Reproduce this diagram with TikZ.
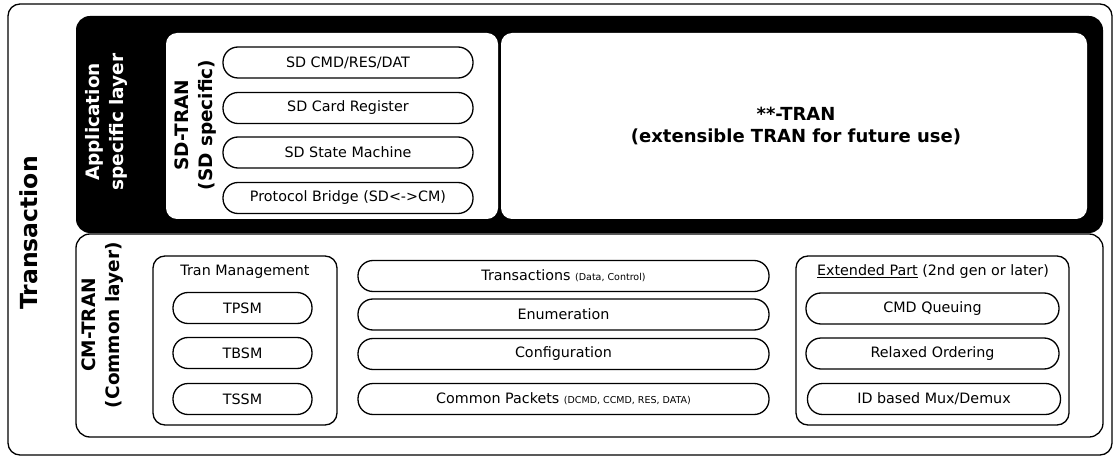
\documentclass[tikz,border=0pt]{standalone}
\usepackage{fontspec}
\setmainfont{DejaVu Sans}
\begin{document}
\begin{tikzpicture}[x=1pt,y=-1pt,
  box/.style={draw,line width=1.3pt,rounded corners=12pt,inner sep=0pt},
  wbox/.style={fill=white,rounded corners=11pt,inner sep=0pt},
  pill/.style={draw,line width=1.3pt,rounded corners=15pt,inner sep=0pt,minimum height=31pt,font=\fontsize{14.3}{16}\selectfont},
  blab/.style={font=\bfseries\fontsize{18.5}{24}\selectfont,align=center,rotate=90,inner sep=0pt},
  rtext/.style={font=\fontsize{14.3}{16}\selectfont,inner sep=0pt},
  small/.style={font=\fontsize{9.5}{10}\selectfont}
]
\newcommand{\smalltxt}[1]{{\fontsize{9.5}{10}\selectfont #1}}
\useasboundingbox (0,0) rectangle (1116,457);
% outer
\node[box,minimum width=1104pt,minimum height=451pt] (outer) at (560,229.5) {};
\node[font=\bfseries\fontsize{23.5}{26}\selectfont,rotate=90,inner sep=0pt] (trans) at (29,233) {Transaction};
% application layer
\node[fill=black,rounded corners=14pt,inner sep=0pt,minimum width=1027pt,minimum height=217pt] (app) at (589.5,124.5) {};
\node[blab,text=white] (applab) at (106,122) {Application\\specific layer};
\node[wbox,minimum width=332pt,minimum height=186pt] (sdtran) at (332,126) {};
\node[wbox,minimum width=586pt,minimum height=186pt] (future) at (794,126) {};
\node[blab] (sdlab) at (196,125) {SD-TRAN\\(SD specific)};
\node[font=\bfseries\fontsize{18}{22}\selectfont,align=center] (futlab) at (796,126) {**-TRAN\\(extensible TRAN for future use)};
\node[pill,minimum width=250pt] (sd1) at (348,62.5) {SD CMD/RES/DAT};
\node[pill,minimum width=250pt] (sd2) at (348,108) {SD Card Register};
\node[pill,minimum width=250pt] (sd3) at (348,152.5) {SD State Machine};
\node[pill,minimum width=250pt] (sd4) at (348,198) {Protocol Bridge (SD<->CM)};
% common layer
\node[box,rounded corners=14pt,minimum width=1027pt,minimum height=203pt] (cm) at (589.5,335.5) {};
\node[blab] (cmlab) at (103,325) {CM-TRAN\\(Common layer)};
\node[box,minimum width=184pt,minimum height=169pt] (tm) at (245,340.5) {};
\node[rtext] (tmlab) at (245,272) {Tran Management};
\node[pill,minimum width=139pt] (tpsm) at (242.5,308) {TPSM};
\node[pill,minimum width=139pt] (tbsm) at (242.5,353) {TBSM};
\node[pill,minimum width=139pt] (tssm) at (242.5,399) {TSSM};
\node[pill,minimum width=411pt] (tr) at (563.5,276) {Transactions \smalltxt{(Data, Control)}};
\node[pill,minimum width=411pt] (en) at (563.5,314.5) {Enumeration};
\node[pill,minimum width=411pt] (cf) at (563.5,354) {Configuration};
\node[pill,minimum width=411pt] (cp) at (563.5,399) {Common Packets \smalltxt{(DCMD, CCMD, RES, DATA)}};
\node[box,minimum width=273pt,minimum height=169pt] (ext) at (932.5,340.5) {};
\node[rtext] (extlab) at (933,272) {\underline{Extended Part} (2nd gen or later)};
\node[pill,minimum width=253pt] (cq) at (932.5,308.5) {CMD Queuing};
\node[pill,minimum width=253pt] (ro) at (932.5,353.5) {Relaxed Ordering};
\node[pill,minimum width=253pt] (id) at (934,399) {ID based Mux/Demux};
\end{tikzpicture}
\end{document}
